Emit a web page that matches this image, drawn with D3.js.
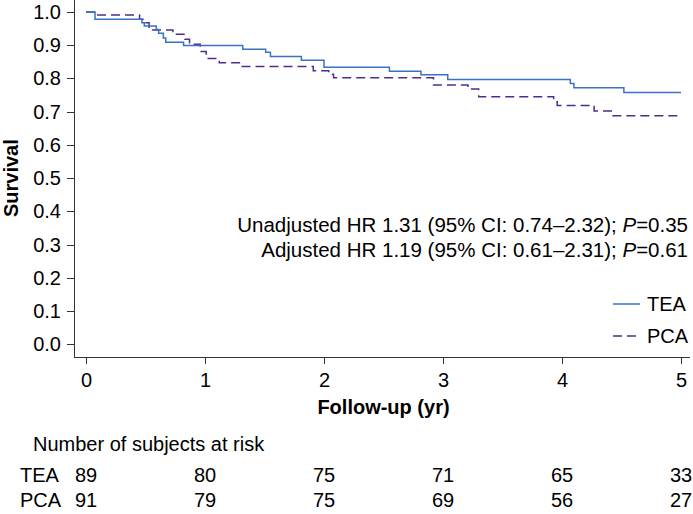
<!DOCTYPE html>
<html>
  <head>
    <meta charset="utf-8">
    <title>Survival TEA vs PCA</title>
    <style>
      body {
        margin: 0px;
        overflow: hidden;
        background: white;
      }

      text {
        font-family: "Liberation Sans", Arial, sans-serif;
        font-size: 20px;
        fill: #000;
      }

      .axis path, .axis line {
        stroke: #333;
        stroke-width: 1px;
        shape-rendering: crispEdges;
      }

      .axis text {
        font-size: 20px;
      }

      .title {
        font-weight: bold;
      }

      .hr {
        font-size: 20.5px;
      }

      .curve {
        fill: none;
        stroke-width: 1.5px;
      }
    </style>
  </head>
  <body>
    <svg id="chart" width="693" height="514"></svg>
    <script src="https://cdn.jsdelivr.net/npm/d3@7"></script>
    <script type="text/javascript">
      // step points: [years, survival]
      var teaSteps = [
        [0, 1.0], [0.076, 0.978], [0.47, 0.968], [0.49, 0.958], [0.59, 0.947],
        [0.61, 0.936], [0.65, 0.922], [0.67, 0.909], [0.82, 0.899], [1.317, 0.888],
        [1.51, 0.879], [1.55, 0.866], [1.81, 0.855], [2.0, 0.834], [2.55, 0.822],
        [2.815, 0.811], [3.04, 0.797], [4.07, 0.785], [4.10, 0.772], [4.52, 0.758],
        [5.0, 0.758]
      ];
      var pcaSteps = [
        [0, 1.0], [0.076, 0.991], [0.45, 0.978], [0.487, 0.968], [0.53, 0.946],
        [0.73, 0.933], [0.83, 0.918], [0.87, 0.903], [0.96, 0.881], [1.01, 0.860],
        [1.12, 0.847], [1.30, 0.836], [1.91, 0.823], [2.04, 0.813], [2.08, 0.802],
        [2.92, 0.780], [3.21, 0.768], [3.30, 0.745], [3.93, 0.730], [3.96, 0.719],
        [4.27, 0.702], [4.42, 0.688], [5.0, 0.688]
      ];

      var groups = ['TEA', 'PCA'];
      var riskTimes = [0, 1, 2, 3, 4, 5];
      var teaRisk = [89, 80, 75, 71, 65, 33];
      var pcaRisk = [91, 79, 75, 69, 56, 27];
      var yTicks = [0, 0.1, 0.2, 0.3, 0.4, 0.5, 0.6, 0.7, 0.8, 0.9, 1.0];
      var xTicks = [0, 1, 2, 3, 4, 5];
      var hrLines = [
        ['Unadjusted HR 1.31 (95% CI: 0.74\u20132.32); ', '0.35'],
        ['Adjusted HR 1.19 (95% CI: 0.61\u20132.31); ', '0.61']
      ];

      var svg = d3.select('#chart');

      var x = d3.scaleLinear().domain([0, 5]).range([86, 681]),
        y = d3.scaleLinear().domain([0, 1]).range([344.3, 12]);

      var colors = { TEA: '#3a72c4', PCA: '#4f2d8c' },
        dashes = { TEA: null, PCA: '9,5' };

      /*
        Axes
      */
      var axisLeftX = 74, axisBottomY = 357;

      var yAxis = svg.append('g')
        .attr('class', 'axis')
        .attr('transform', 'translate(' + axisLeftX + ',0)')
        .call(d3.axisLeft(y).tickValues(yTicks).tickFormat(d3.format('.1f'))
          .tickSize(7).tickPadding(6));
      yAxis.select('.domain').remove();
      yAxis.append('line')
        .attr('x1', 0).attr('x2', 0)
        .attr('y1', 0).attr('y2', axisBottomY);

      var xAxis = svg.append('g')
        .attr('class', 'axis')
        .attr('transform', 'translate(0,' + axisBottomY + ')')
        .call(d3.axisBottom(x).tickValues(xTicks).tickFormat(d3.format('d'))
          .tickSize(7).tickPadding(9));
      xAxis.select('.domain').remove();
      xAxis.append('line')
        .attr('x1', axisLeftX).attr('x2', 690)
        .attr('y1', 0).attr('y2', 0);

      svg.selectAll('.axis text').attr('fill', '#000');

      svg.append('text')
        .attr('class', 'title')
        .attr('transform', 'translate(18,' + y(0.5) + ') rotate(-90)')
        .attr('text-anchor', 'middle')
        .text('Survival');

      svg.append('text')
        .attr('class', 'title')
        .attr('x', (x(0) + x(5)) / 2)
        .attr('y', 414)
        .attr('text-anchor', 'middle')
        .text('Follow-up (yr)');

      /*
        Curves
      */
      var line = d3.line()
        .x(function(d) { return x(d[0]); })
        .y(function(d) { return y(d[1]); })
        .curve(d3.curveStepAfter);

      [['PCA', pcaSteps], ['TEA', teaSteps]].forEach(function(s) {
        svg.append('path')
          .datum(s[1])
          .attr('class', 'curve')
          .attr('stroke', colors[s[0]])
          .attr('stroke-dasharray', dashes[s[0]])
          .attr('d', line);
      });

      /*
        HR annotation
      */
      hrLines.forEach(function(l, i) {
        var t = svg.append('text')
          .attr('class', 'hr')
          .attr('x', 688)
          .attr('y', 232 + i * 25)
          .attr('text-anchor', 'end');
        t.append('tspan').text(l[0]);
        t.append('tspan').attr('font-style', 'italic').text('P');
        t.append('tspan').text('=' + l[1]);
      });

      /*
        Legend
      */
      groups.forEach(function(g, i) {
        var ly = 304 + i * 32;
        svg.append('line')
          .attr('x1', 613).attr('x2', 640)
          .attr('y1', ly).attr('y2', ly)
          .attr('stroke', colors[g])
          .attr('stroke-width', 1.5)
          .attr('stroke-dasharray', dashes[g]);
        svg.append('text')
          .attr('x', 647)
          .attr('y', ly + 7)
          .text(g);
      });

      /*
        Number at risk table
      */
      svg.append('text')
        .attr('x', 33)
        .attr('y', 451)
        .text('Number of subjects at risk');

      [teaRisk, pcaRisk].forEach(function(row, i) {
        var ry = 482 + i * 25;
        svg.append('text')
          .attr('x', 20)
          .attr('y', ry)
          .text(groups[i]);
        svg.selectAll(null)
          .data(row)
          .enter().append('text')
          .attr('x', function(d, j) { return x(riskTimes[j]); })
          .attr('y', ry)
          .attr('text-anchor', 'middle')
          .text(function(d) { return d; });
      });
    </script>
  </body>
</html>
